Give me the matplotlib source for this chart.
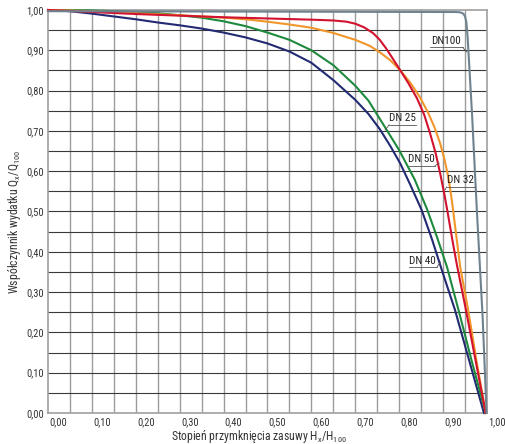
import matplotlib
matplotlib.use("Agg")
import matplotlib.pyplot as plt
from matplotlib import font_manager
from matplotlib.transforms import ScaledTranslation

# ---------------- data ----------------
x_ticks = [0.0, 0.1, 0.2, 0.3, 0.4, 0.5, 0.6, 0.7, 0.8, 0.9, 1.0]
x_tick_labels = ["0,00", "0,10", "0,20", "0,30", "0,40", "0,50", "0,60", "0,70", "0,80", "0,90", "1,00"]
y_ticks = [0.0, 0.1, 0.2, 0.3, 0.4, 0.5, 0.6, 0.7, 0.8, 0.9, 1.0]
y_tick_labels = ["0,00", "0,10", "0,20", "0,30", "0,40", "0,50", "0,60", "0,70", "0,80", "0,90", "1,00"]

dn40_x = [0.0, 0.05, 0.1, 0.15, 0.2, 0.25, 0.3, 0.35, 0.4, 0.45, 0.5, 0.55, 0.6, 0.65, 0.7, 0.73,
          0.756, 0.78, 0.802, 0.825, 0.851, 0.875, 0.9, 0.927, 0.96, 0.993]
dn40_y = [1.0, 0.997, 0.991, 0.984, 0.977, 0.969, 0.962, 0.954, 0.944, 0.932, 0.917, 0.897, 0.869, 0.826,
          0.777, 0.742, 0.704, 0.662, 0.62, 0.567, 0.504, 0.43, 0.345, 0.256, 0.128, 0.0]

dn25_x = [0.0, 0.1, 0.2, 0.25, 0.3, 0.35, 0.4, 0.45, 0.5, 0.55, 0.6, 0.65, 0.7, 0.73, 0.77, 0.8,
          0.835, 0.863, 0.885, 0.909, 0.935, 0.965, 0.997]
dn25_y = [1.0, 0.999, 0.995, 0.992, 0.987, 0.981, 0.972, 0.96, 0.944, 0.926, 0.9, 0.863, 0.812, 0.775,
          0.705, 0.652, 0.58, 0.507, 0.44, 0.362, 0.256, 0.13, 0.0]

dn32_x = [0.0, 0.1, 0.2, 0.3, 0.4, 0.45, 0.5, 0.55, 0.6, 0.65, 0.7, 0.733, 0.756, 0.78, 0.802, 0.825,
          0.847, 0.865, 0.88, 0.893, 0.903, 0.911, 0.917, 0.922, 0.93, 0.939, 0.957, 0.976, 0.997]
dn32_y = [1.0, 0.997, 0.992, 0.987, 0.981, 0.977, 0.971, 0.964, 0.956, 0.943, 0.926, 0.911, 0.895, 0.875,
          0.851, 0.82, 0.784, 0.747, 0.71, 0.67, 0.63, 0.59, 0.55, 0.51, 0.44, 0.362, 0.256, 0.13, 0.0]

dn50_x = [0.0, 0.1, 0.2, 0.3, 0.4, 0.5, 0.6, 0.65, 0.68, 0.7, 0.72, 0.74, 0.755, 0.77, 0.785, 0.802,
          0.82, 0.84, 0.857, 0.87, 0.883, 0.893, 0.902, 0.91, 0.921, 0.931, 0.952, 0.974, 0.997]
dn50_y = [1.0, 0.995, 0.99, 0.986, 0.982, 0.979, 0.976, 0.974, 0.971, 0.966, 0.957, 0.943, 0.927, 0.905,
          0.88, 0.851, 0.82, 0.782, 0.74, 0.695, 0.645, 0.596, 0.548, 0.50, 0.43, 0.37, 0.256, 0.13, 0.0]

dn100_x = [0.0, 0.5, 0.93, 0.94, 0.946, 0.95, 0.953, 0.956, 0.966, 0.977, 0.99, 0.999]
dn100_y = [0.997, 0.996, 0.995, 0.994, 0.991, 0.984, 0.97, 0.93, 0.74, 0.50, 0.24, 0.0]

series_names = ["DN 40", "DN 25", "DN 32", "DN 50", "DN100"]
series_colors = ["#222a72", "#1f8a3e", "#f0962a", "#d2122e", "#6f8290"]

# ---------------- font ----------------
available = {f.name for f in font_manager.fontManager.ttflist}
font_choice = "DejaVu Sans"
for cand in ["Liberation Sans Narrow", "Arial Narrow", "Roboto Condensed", "Liberation Sans"]:
    if cand in available:
        font_choice = cand
        break
plt.rcParams["font.family"] = [font_choice, "DejaVu Sans"]
plt.rcParams["mathtext.fontset"] = "custom"
plt.rcParams["mathtext.rm"] = font_choice
plt.rcParams["mathtext.it"] = font_choice

text_color = "#333333"

fig = plt.figure(figsize=(5.06, 4.44), dpi=100)
ax = fig.add_axes([48 / 506, 31 / 444, 439 / 506, 403 / 444])
ax.set_xlim(0, 1.0)
ax.set_ylim(0, 1.0)

# grid
for i in range(1, 20):
    ax.axvline(i * 0.05, color="#9c9c9c", lw=1.0, zorder=1)
for i in range(1, 20):
    ax.axhline(i * 0.05, color="#3a3a3a", lw=0.8, zorder=1)

for s in ax.spines.values():
    s.set_color("#a0a0a0")
    s.set_linewidth(1.2)

xs = [dn40_x, dn25_x, dn32_x, dn50_x, dn100_x]
ys = [dn40_y, dn25_y, dn32_y, dn50_y, dn100_y]
for xv, yv, c in zip(xs, ys, series_colors):
    ax.plot(xv, yv, color=c, lw=1.5, zorder=3, clip_on=False, solid_joinstyle="round")

ax.set_xticks(x_ticks)
ax.set_xticklabels(x_tick_labels, fontsize=7.5, color=text_color)
ax.set_yticks(y_ticks)
ax.set_yticklabels(y_tick_labels, fontsize=7.5, color=text_color)
ax.tick_params(length=0, pad=3)
offset = ScaledTranslation(10 / 100, 0, fig.dpi_scale_trans)
for lab in ax.get_xticklabels():
    lab.set_transform(lab.get_transform() + offset)

fig.text(259 / 506, 1 - 436 / 444, r"Stopień przymknięcia zasuwy H$_\mathregular{x}$/H$_\mathregular{100}$",
         ha="center", va="center", fontsize=8.5, color=text_color)
fig.text(15 / 506, 1 - 222 / 444, r"Współczynnik wydatku Q$_\mathregular{x}$/Q$_\mathregular{100}$",
         ha="center", va="center", rotation=90, fontsize=8.5, color=text_color)

# labels with leader lines: (text, text-centre x, underline y, underline x0, x1, leader start x, leader end (x, y))
labels = [
    ("DN100", 0.907, 0.907, 0.870, 0.945, 0.945, (0.954, 0.896)),
    ("DN 25", 0.808, 0.715, 0.777, 0.838, 0.777, (0.768, 0.702)),
    ("DN 50", 0.851, 0.614, 0.822, 0.882, 0.882, (0.891, 0.620)),
    ("DN 32", 0.940, 0.561, 0.908, 0.973, 0.908, (0.904, 0.553)),
    ("DN 40", 0.852, 0.362, 0.822, 0.886, 0.886, (0.894, 0.375)),
]
for txt, tx, uy, ux0, ux1, lx, (ex, ey) in labels:
    ax.text(tx, uy + 0.004, txt, ha="center", va="bottom", fontsize=8, color="#222222", zorder=5)
    ax.plot([ux0, ux1], [uy, uy], color="#555555", lw=0.6, zorder=4)
    ax.plot([lx, ex], [uy, ey], color="#555555", lw=0.6, zorder=4)

fig.savefig("out.png", dpi=100)
